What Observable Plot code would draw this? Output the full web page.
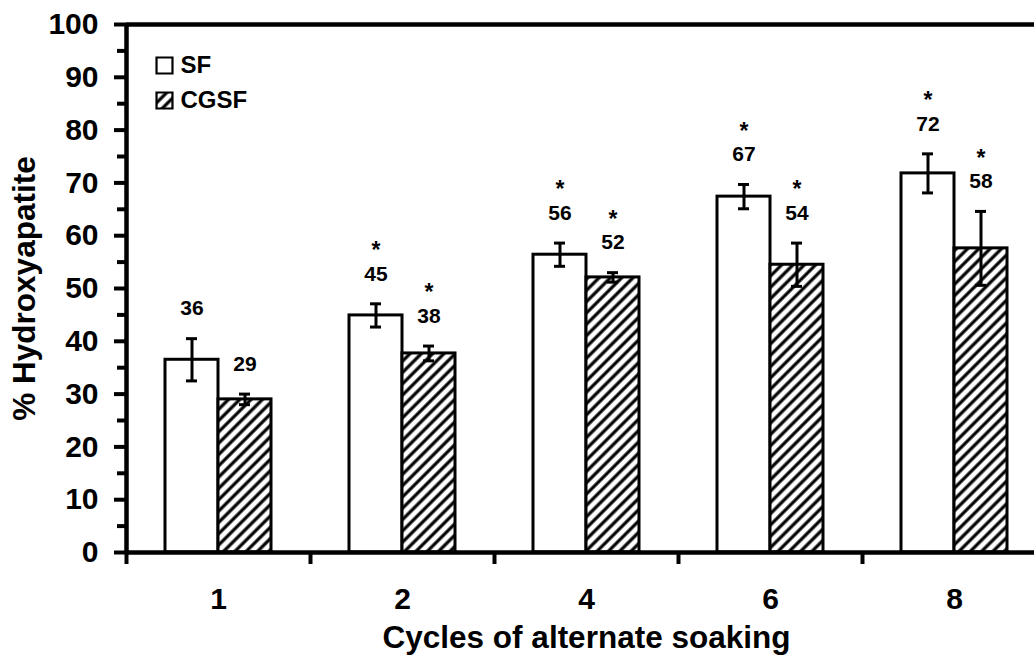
<!DOCTYPE html>
<html>
<head>
<meta charset="utf-8">
<script src="https://cdn.jsdelivr.net/npm/d3@7"></script>
<script src="https://cdn.jsdelivr.net/npm/@observablehq/plot@0.6"></script>
<style>
  html, body { margin: 0; padding: 0; background: white; overflow: hidden; }
  svg { overflow: hidden; }
</style>
</head>
<body>
<div id="chart"></div>
<script>
// ---- data ----
const cycles = ["1", "2", "4", "6", "8"];
const sfValues = [36.5, 44.9, 56.4, 67.4, 71.8];
const sfErrors = [4.0, 2.2, 2.2, 2.3, 3.7];
const cgsfValues = [29.0, 37.7, 52.1, 54.5, 57.6];
const cgsfErrors = [1.0, 1.4, 0.9, 4.1, 7.0];
const sfLabels = ["36", "45", "56", "67", "72"];
const cgsfLabels = ["29", "38", "52", "54", "58"];
const sfStars = [false, true, true, true, true];
const cgsfStars = [false, true, true, true, true];
const yTicks = [0, 10, 20, 30, 40, 50, 60, 70, 80, 90, 100];
const yMinorTicks = [5, 15, 25, 35, 45, 55, 65, 75, 85, 95];
const yDomain = [0, 100];
const seriesNames = ["SF", "CGSF"];
const xTitle = "Cycles of alternate soaking";
const yTitle = "% Hydroxyapatite";

// ---- tables built from the arrays ----
const sf = cycles.map((c, i) => ({cycle: c, v: sfValues[i], e: sfErrors[i], label: sfLabels[i], star: sfStars[i]}));
const cgsf = cycles.map((c, i) => ({cycle: c, v: cgsfValues[i], e: cgsfErrors[i], label: cgsfLabels[i], star: cgsfStars[i]}));

const font = "'Liberation Sans', Arial, Helvetica, sans-serif";
const half = 26.5;   // half bar width (px)
const bandHalf = 92; // half band width (px)

const svg = Plot.plot({
  width: 1034,
  height: 656,
  marginLeft: 126,
  marginRight: -12,
  marginTop: 24,
  marginBottom: 104,
  style: {fontFamily: font, background: "white", color: "black"},
  x: {domain: cycles, padding: 0, label: null, axis: null},
  y: {domain: yDomain, label: null, axis: null},
  marks: [
    // bars
    Plot.barY(sf, {x: "cycle", y: "v", fill: "white", stroke: "black", strokeWidth: 3, insetLeft: 39, insetRight: 92}),
    Plot.barY(cgsf, {x: "cycle", y: "v", fill: "url(#hatch)", stroke: "black", strokeWidth: 3, insetLeft: 92, insetRight: 39}),
    // error bars
    Plot.ruleX(sf, {x: "cycle", y1: d => d.v - d.e, y2: d => d.v + d.e, dx: -half, stroke: "black", strokeWidth: 3}),
    Plot.ruleX(cgsf, {x: "cycle", y1: d => d.v - d.e, y2: d => d.v + d.e, dx: half, stroke: "black", strokeWidth: 3}),
    Plot.tickY(sf, {x: "cycle", y: d => d.v + d.e, insetLeft: 60, insetRight: 113, stroke: "black", strokeWidth: 3}),
    Plot.tickY(sf, {x: "cycle", y: d => d.v - d.e, insetLeft: 60, insetRight: 113, stroke: "black", strokeWidth: 3}),
    Plot.tickY(cgsf, {x: "cycle", y: d => d.v + d.e, insetLeft: 113, insetRight: 60, stroke: "black", strokeWidth: 3}),
    Plot.tickY(cgsf, {x: "cycle", y: d => d.v - d.e, insetLeft: 113, insetRight: 60, stroke: "black", strokeWidth: 3}),
    // value labels
    Plot.text(sf, {x: "cycle", y: d => d.v + d.e, text: "label", dx: -half, dy: -30, fontSize: 21, fontWeight: "bold", fill: "black"}),
    Plot.text(cgsf, {x: "cycle", y: d => d.v + d.e, text: "label", dx: half, dy: -30, fontSize: 21, fontWeight: "bold", fill: "black"}),
    Plot.text(sf.filter(d => d.star), {x: "cycle", y: d => d.v + d.e, text: () => "*", dx: -half, dy: -53, fontSize: 23, fontWeight: "bold", fill: "black"}),
    Plot.text(cgsf.filter(d => d.star), {x: "cycle", y: d => d.v + d.e, text: () => "*", dx: half, dy: -53, fontSize: 23, fontWeight: "bold", fill: "black"}),
    // axes
    Plot.axisY({ticks: yTicks, tickSize: 12, tickPadding: 16, fontSize: 30, fontWeight: "bold", strokeWidth: 4, label: null}),
    Plot.axisY({ticks: yMinorTicks, tickSize: 9, tickFormat: () => "", strokeWidth: 4, label: null}),
    Plot.axisX({tickSize: 12, dx: -bandHalf, tickFormat: () => "", strokeWidth: 4, label: null}),
    Plot.axisX({tickSize: 0, tickPadding: 35, fontSize: 30, fontWeight: "bold", label: null}),
    Plot.ruleY(yDomain, {stroke: "black", strokeWidth: 4.5}),
    Plot.ruleX([cycles[0]], {dx: -bandHalf, stroke: "black", strokeWidth: 4.5}),
    // titles
    Plot.text([xTitle], {frameAnchor: "bottom", lineAnchor: "middle", dy: 85, fontSize: 31.5, fontWeight: "bold", fill: "black"}),
    Plot.text([yTitle], {frameAnchor: "left", textAnchor: "middle", lineAnchor: "middle", dx: -102, dy: 0, rotate: -90, fontSize: 31.5, fontWeight: "bold", fill: "black"}),
    // legend
    Plot.dot([seriesNames[0]], {frameAnchor: "top-left", dx: 38, dy: 41, symbol: "square", r: 9, fill: "white", stroke: "black", strokeWidth: 2.2}),
    Plot.dot([seriesNames[1]], {frameAnchor: "top-left", dx: 38, dy: 76, symbol: "square", r: 9, fill: "url(#hatch)", stroke: "black", strokeWidth: 2.2}),
    Plot.text([seriesNames[0]], {frameAnchor: "top-left", dx: 54, dy: 41, text: d => d, textAnchor: "start", lineAnchor: "middle", fontSize: 24, fontWeight: "bold", fill: "black"}),
    Plot.text([seriesNames[1]], {frameAnchor: "top-left", dx: 54, dy: 76, text: d => d, textAnchor: "start", lineAnchor: "middle", fontSize: 24, fontWeight: "bold", fill: "black"})
  ]
});

// hatch pattern
const defs = d3.select(svg).insert("defs", ":first-child");
const pat = defs.append("pattern")
  .attr("id", "hatch")
  .attr("patternUnits", "userSpaceOnUse")
  .attr("width", 8)
  .attr("height", 8)
  .attr("patternTransform", "rotate(45)");
pat.append("rect").attr("width", 8).attr("height", 8).attr("fill", "white");
pat.append("line").attr("x1", 4).attr("y1", -1).attr("x2", 4).attr("y2", 9)
  .attr("stroke", "black").attr("stroke-width", 3.2);

document.getElementById("chart").appendChild(svg);
</script>
</body>
</html>
